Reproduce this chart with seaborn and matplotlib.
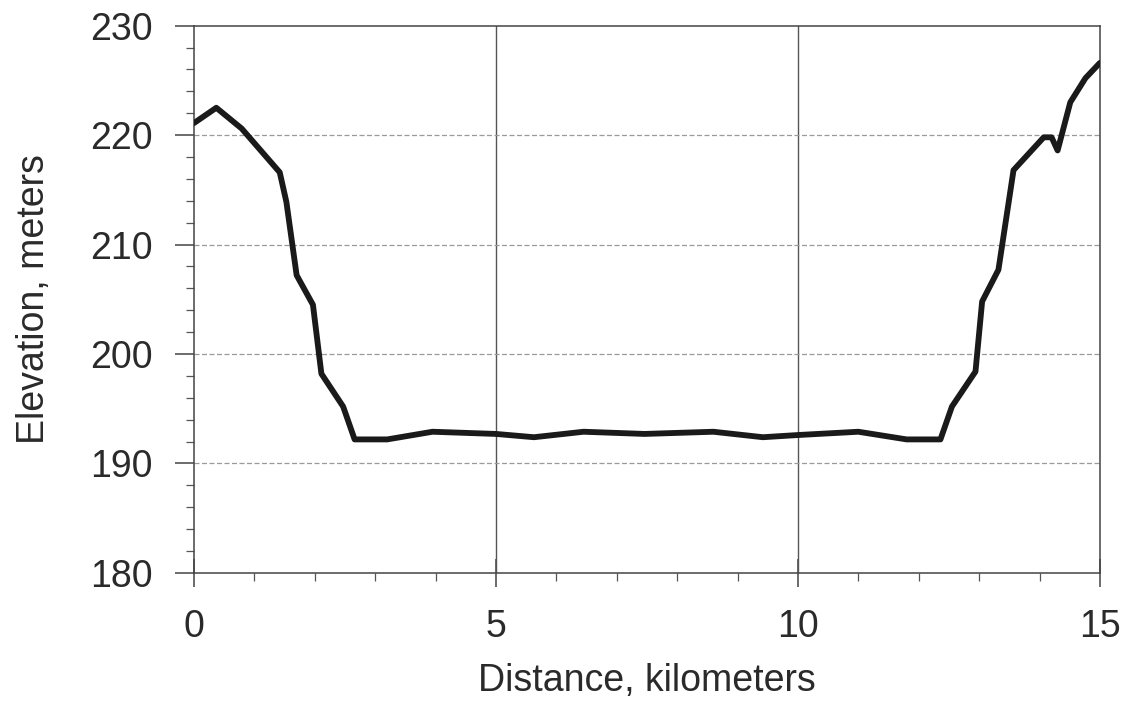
import pandas as pd
import matplotlib.pyplot as plt
import seaborn as sns
from matplotlib.ticker import MultipleLocator

# Profile values
distance_km = [0.0, 0.37, 0.79, 1.42, 1.53, 1.70, 1.97, 2.11, 2.47, 2.66,
               3.20, 3.95, 5.00, 5.63, 6.45, 7.46, 8.60, 9.42, 10.00, 11.00,
               11.80, 12.36, 12.55, 12.94, 13.05, 13.32, 13.57, 14.07, 14.20,
               14.30, 14.51, 14.76, 15.00]
elevation_m = [221.1, 222.5, 220.6, 216.6, 213.9, 207.2, 204.5, 198.2, 195.2, 192.2,
               192.2, 192.9, 192.7, 192.4, 192.9, 192.7, 192.9, 192.4, 192.6, 192.9,
               192.2, 192.2, 195.2, 198.4, 204.8, 207.7, 216.8, 219.8, 219.8,
               218.6, 223.0, 225.2, 226.6]

x_ticks = [0, 5, 10, 15]
y_ticks = [180, 190, 200, 210, 220, 230]

df = pd.DataFrame({"distance": distance_km, "elevation": elevation_m})

sns.set_style("ticks")
plt.rcParams["font.family"] = ["Liberation Sans", "DejaVu Sans"]

fig = plt.figure(figsize=(11.31, 7.03), dpi=100)
ax = fig.add_axes([0.1715, 0.185, 0.801, 0.7785])

sns.lineplot(data=df, x="distance", y="elevation", ax=ax,
             color="#1a1a1a", linewidth=4.2, zorder=3)

ax.set_xlim(0, 15)
ax.set_ylim(180, 230)
ax.set_xticks(x_ticks)
ax.set_yticks(y_ticks)
ax.xaxis.set_minor_locator(MultipleLocator(1))
ax.yaxis.set_minor_locator(MultipleLocator(2))

# grid: solid verticals, broken horizontals
for xv in x_ticks[1:-1]:
    ax.axvline(xv, color="#555555", linewidth=1.0, zorder=1)
for yv in y_ticks[1:-1]:
    ax.axhline(yv, color="#9a9a9a", linewidth=0.9,
               linestyle=(0, (4, 2)), zorder=1)

for s in ax.spines.values():
    s.set_visible(True)
    s.set_color("#444444")
    s.set_linewidth(1.1)

ax.tick_params(axis="both", which="major", labelsize=27, colors="#444444",
               labelcolor="#2a2a2a", width=1.1)
ax.tick_params(axis="y", which="major", length=14, pad=16)
ax.tick_params(axis="x", which="major", direction="inout", length=20, pad=16)
ax.tick_params(axis="both", which="minor", length=6, width=0.9, colors="#555555")

ax.set_xlabel("Distance, kilometers", fontsize=27, color="#2a2a2a", labelpad=13)
ax.set_ylabel("Elevation, meters", fontsize=27, color="#2a2a2a", labelpad=27)

plt.savefig("out.png", dpi=100)
plt.close()
